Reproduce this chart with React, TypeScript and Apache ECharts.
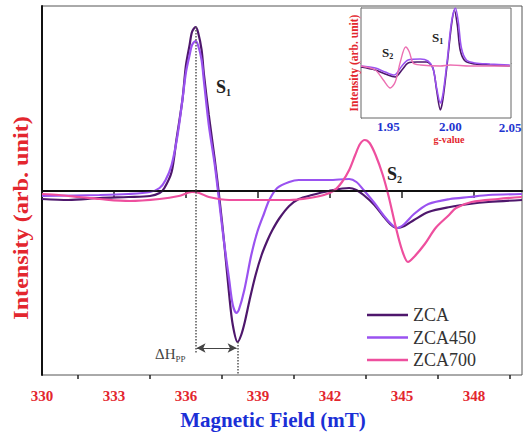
import React, { useEffect, useRef } from "react";
import * as echarts from "echarts";

// ---------- main plot data (field in mT, intensity in arb. units) ----------
const fieldZCA = [330, 331.1, 332.4, 333.6, 334.5, 334.9, 335.1, 335.4, 335.6, 335.85, 336.0, 336.15, 336.25, 336.4, 336.5, 336.65, 336.75, 336.95, 337.2, 337.4, 337.6, 337.8, 337.95, 338.15, 338.3, 338.45, 338.65, 338.9, 339.15, 339.4, 339.6, 339.9, 340.3, 340.7, 341.25, 341.95, 342.8, 343.1, 343.4, 343.85, 344.25, 344.55, 344.8, 345.1, 345.5, 346.1, 347.0, 347.8, 348.6, 350];
const valZCA = [-8, -9, -7, -6, -5, -2, 3, 19, 51, 91, 126, 146, 159, 164, 159, 141, 116, 76, 31, -9, -54, -104, -134, -151, -144, -131, -109, -84, -64, -49, -39, -27, -15, -8, -4, 0, 3, 1, -4, -14, -26, -34, -37, -35, -29, -21, -16, -13, -11, -9];

const fieldZCA450 = [330, 332.4, 333.6, 334.5, 334.9, 335.15, 335.4, 335.65, 335.85, 336.0, 336.15, 336.25, 336.4, 336.5, 336.65, 336.75, 336.95, 337.2, 337.4, 337.6, 337.8, 337.95, 338.1, 338.2, 338.43, 338.72, 338.97, 339.26, 339.47, 339.8, 340.3, 340.7, 341.95, 342.8, 343.1, 343.4, 343.85, 344.25, 344.55, 344.8, 345.1, 345.5, 346.1, 347.0, 347.8, 348.6, 350];
const valZCA450 = [-5, -4, -3, -1, 3, 11, 26, 56, 91, 119, 136, 146, 150, 146, 131, 109, 66, 26, -14, -54, -89, -114, -122, -119, -99, -64, -41, -22, -9, 3, 9, 11, 11, 12, 9, 1, -12, -25, -33, -37, -33, -23, -13, -8, -6, -4, -3];

const fieldZCA700 = [330, 330.7, 331.55, 332.4, 333.65, 334.9, 335.7, 336.25, 336.55, 336.95, 337.8, 339.05, 340.3, 341.15, 341.75, 342.2, 342.5, 342.8, 343.05, 343.25, 343.45, 343.65, 343.9, 344.2, 344.45, 344.75, 345.0, 345.25, 345.5, 345.95, 346.4, 346.96, 347.25, 347.9, 349.0, 350];
const valZCA700 = [-3, -4, -6, -8, -10, -8, -5, -1, -2, -6, -9, -9, -9, -7, -4, 1, 9, 21, 36, 47, 51, 48, 36, 16, -6, -37, -59, -71, -66, -53, -37, -24, -17, -11, -8, -6];

// ---------- inset data (g-value, intensity) ----------
const gZCA = [1.928, 1.9395, 1.9475, 1.9556, 1.961, 1.966, 1.973, 1.981, 1.986, 1.989, 1.992, 1.994, 1.9976, 2.001, 2.0033, 2.0057, 2.008, 2.012, 2.02, 2.032, 2.048];
const iZCA = [-4, -7, -11, -14, -7, 0, 1, 1, -5, -27, -47, -37, 0, 38, 53, 38, 13, 2, -1, -2, -3];
const gZCA450 = [1.928, 1.9395, 1.9475, 1.9548, 1.961, 1.966, 1.9758, 1.982, 1.986, 1.989, 1.992, 1.994, 1.9976, 2.001, 2.0042, 2.0065, 2.009, 2.013, 2.02, 2.032, 2.048];
const iZCA450 = [-3, -5, -9, -12, -3, 3, 4, 2, -5, -25, -40, -32, 3, 41, 55, 41, 15, 3, 0, -1, -2];
const gZCA700 = [1.928, 1.9395, 1.946, 1.9516, 1.9556, 1.9597, 1.964, 1.967, 1.97, 1.976, 1.992, 2.0, 2.016, 2.048];
const iZCA700 = [-3, -7, -17, -25, -19, 1, 16, 11, 0, -2, -3, -2, -3, -3];

// ---------- axes ----------
const fieldTicks = [330, 333, 336, 339, 342, 345, 348];
const fieldMinorTicks = [331.5, 334.5, 337.5, 340.5, 343.5, 346.5, 349.5];
const gTicks = [1.95, 2.0, 2.05];
const seriesNames = ["ZCA", "ZCA450", "ZCA700"];
const colors = ["#4e176c", "#9a52f0", "#ee4f9e"];

// ΔHpp annotation (field values)
const peakField = 336.4;
const troughField = 338.15;
const peakVal = 164;
const troughVal = -151;
const arrowVal = -157;

const zip = (a: number[], b: number[]) => a.map((v, i) => [v, b[i]]);

const SERIF = "Liberation Serif";

export default function App() {
  const ref = useRef<HTMLDivElement>(null);
  useEffect(() => {
    document.body.style.margin = "0";
    if (!ref.current) return;
    const chart = echarts.init(ref.current, undefined, { renderer: "svg" });
    const lineBase = (name: string, data: number[][], color: string, xi: number, yi: number, w: number) => ({
      name,
      type: "line",
      xAxisIndex: xi,
      yAxisIndex: yi,
      data,
      symbol: "none",
      showSymbol: false,
      smooth: 0.3,
      lineStyle: { color, width: w },
      itemStyle: { color },
    });
    const main = [
      lineBase(seriesNames[0], zip(fieldZCA, valZCA), colors[0], 0, 0, 2.2),
      lineBase(seriesNames[1], zip(fieldZCA450, valZCA450), colors[1], 0, 0, 2.2),
      lineBase(seriesNames[2], zip(fieldZCA700, valZCA700), colors[2], 0, 0, 2.2),
    ];
    (main[0] as any).markLine = {
      silent: true,
      symbol: "none",
      label: { show: false },
      animation: false,
      data: [
        [
          { coord: [330, 0], lineStyle: { color: "#111", width: 1.5, type: "solid" } },
          { coord: [350, 0] },
        ],
        [
          { coord: [peakField, peakVal], lineStyle: { color: "#555", width: 1.5, type: "dotted" } },
          { coord: [peakField, arrowVal - 6] },
        ],
        [
          { coord: [troughField, troughVal], lineStyle: { color: "#555", width: 1.5, type: "dotted" } },
          { coord: [troughField, -184] },
        ],
        [
          { coord: [peakField + 0.04, arrowVal], symbol: "arrow", symbolSize: [7, 9], lineStyle: { color: "#444", width: 1.2, type: "solid" } },
          { coord: [troughField - 0.04, arrowVal], symbol: "arrow", symbolSize: [7, 9] },
        ],
      ],
    };
    const inset = [
      lineBase(seriesNames[0], zip(gZCA, iZCA), colors[0], 2, 1, 1.6),
      lineBase(seriesNames[1], zip(gZCA450, iZCA450), colors[1], 2, 1, 1.6),
      lineBase(seriesNames[2], zip(gZCA700, iZCA700), "#ec6fb2", 2, 1, 1.4),
    ];
    (inset[0] as any).markLine = {
      silent: true,
      symbol: "none",
      label: { show: false },
      animation: false,
      data: [[{ coord: [1.928, 0], lineStyle: { color: "#888", width: 1, type: "solid" } }, { coord: [2.05, 0] }]],
    };

    const txt = (x: number, y: number, text: string, font: string, fill: string, extra: any = {}) => ({
      type: "text",
      x,
      y,
      silent: true,
      z: 100,
      ...extra,
      style: { text, font, fill, textAlign: "center", textVerticalAlign: "middle", align: "center", verticalAlign: "middle", ...(extra.style || {}) },
    });

    const option: any = {
      animation: false,
      backgroundColor: "#fff",
      grid: [
        { left: 42, top: 6, right: 3, bottom: 59, show: true, borderColor: "#555", borderWidth: 1, backgroundColor: "transparent" },
        { left: 361, top: 8, width: 150, height: 110, show: true, borderColor: "#666", borderWidth: 1, backgroundColor: "#fff", z: 3 },
      ],
      legend: {
        data: seriesNames,
        orient: "vertical",
        left: 362,
        top: 301,
        icon: "rect",
        itemWidth: 41,
        itemHeight: 2.5,
        itemGap: 4.5,
        textStyle: { fontFamily: SERIF, fontSize: 18, color: "#333", lineHeight: 16 },
      },
      xAxis: [
        {
          gridIndex: 0, type: "value", min: 330, max: 350, position: "bottom",
          axisLine: { show: true, lineStyle: { color: "#111", width: 2 } },
          axisTick: { show: true, customValues: fieldTicks, length: 7, lineStyle: { color: "#222", width: 1.5 } },
          axisLabel: { customValues: fieldTicks, color: "#e3262e", fontWeight: "bold", fontSize: 15, fontFamily: SERIF, margin: 13 },
          splitLine: { show: false },
        },
        {
          gridIndex: 0, type: "value", min: 330, max: 350, position: "bottom",
          axisLine: { show: false },
          axisTick: { show: true, customValues: fieldMinorTicks, length: 4, lineStyle: { color: "#222", width: 1.5 } },
          axisLabel: { show: false },
          splitLine: { show: false },
        },
        {
          gridIndex: 1, type: "value", min: 1.928, max: 2.049, position: "bottom",
          axisLine: { show: true, lineStyle: { color: "#555", width: 1 } },
          axisTick: { show: false },
          axisLabel: { customValues: [1.95, 2.0], formatter: (v: number) => v.toFixed(2), color: "#1f35d0", fontWeight: "bold", fontSize: 13, fontFamily: SERIF, margin: 2 },
          splitLine: { show: false },
        },
      ],
      yAxis: [
        {
          gridIndex: 0, type: "value", min: -184, max: 185,
          axisLine: { show: true, lineStyle: { color: "#111", width: 2 } },
          axisTick: { show: false }, axisLabel: { show: false }, splitLine: { show: false },
        },
        {
          gridIndex: 1, type: "value", min: -55, max: 55,
          axisLine: { show: true, lineStyle: { color: "#555", width: 1 } },
          axisTick: { show: false }, axisLabel: { show: false }, splitLine: { show: false },
        },
      ],
      series: [...main, ...inset],
      graphic: [
        txt(20, 218, "Intensity (arb. unit)", `bold 22px ${SERIF}`, "#e3262e", { rotation: Math.PI / 2, scaleX: 1.1 }),
        txt(273, 420, "Magnetic Field (mT)", `bold 21px ${SERIF}`, "#1b2fd6"),
        txt(510, 127, gTicks[2].toFixed(2), `bold 13px ${SERIF}`, "#1f35d0"),
        {
          type: "text", x: 216, y: 77, silent: true, z: 100,
          style: { text: "{s|S}{n|1}", rich: { s: { font: `bold 18px ${SERIF}`, fill: "#222" }, n: { font: `bold 10px ${SERIF}`, fill: "#222", padding: [10, 0, 0, 0] } } },
        },
        {
          type: "text", x: 387, y: 164, silent: true, z: 100,
          style: { text: "{s|S}{n|2}", rich: { s: { font: `bold 18px ${SERIF}`, fill: "#222" }, n: { font: `bold 10px ${SERIF}`, fill: "#222", padding: [10, 0, 0, 0] } } },
        },
        {
          type: "text", x: 155, y: 344, silent: true, z: 100,
          style: { text: "{s|ΔH}{n|PP}", rich: { s: { font: `15px ${SERIF}`, fill: "#444" }, n: { font: `9px ${SERIF}`, fill: "#444", padding: [10, 0, 0, 0] } } },
        },
        {
          type: "text", x: 432, y: 30, silent: true, z: 100,
          style: { text: "{s|S}{n|1}", rich: { s: { font: `bold 13px ${SERIF}`, fill: "#222" }, n: { font: `bold 8px ${SERIF}`, fill: "#222", padding: [7, 0, 0, 0] } } },
        },
        {
          type: "text", x: 382, y: 45, silent: true, z: 100,
          style: { text: "{s|S}{n|2}", rich: { s: { font: `bold 13px ${SERIF}`, fill: "#222" }, n: { font: `bold 8px ${SERIF}`, fill: "#222", padding: [7, 0, 0, 0] } } },
        },
        txt(354, 63, "Intensity (arb. unit)", `bold 11.5px ${SERIF}`, "#e3262e", { rotation: Math.PI / 2 }),
        txt(449, 139, "g-value", `bold 10px ${SERIF}`, "#e3262e"),
      ],
    };
    chart.setOption(option);
    return () => chart.dispose();
  }, []);
  return <div ref={ref} style={{ width: 525, height: 434 }} />;
}
